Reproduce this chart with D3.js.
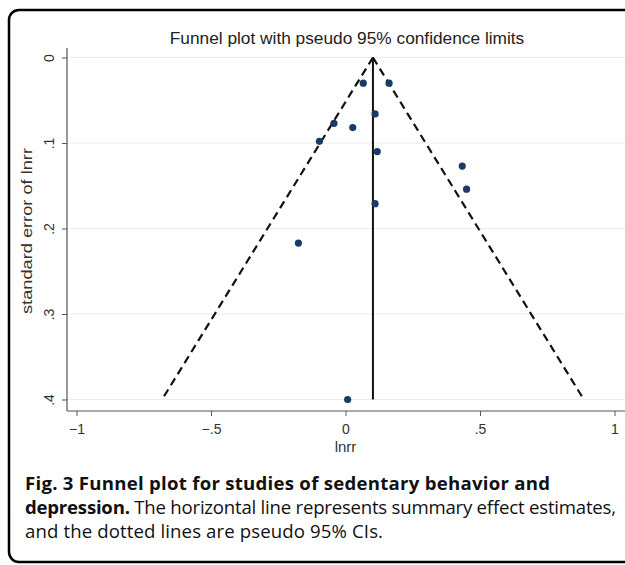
<!DOCTYPE html>
<html lang="en">
<head>
    <meta charset="UTF-8">
    <title>Funnel plot</title>
    <script src="https://d3js.org/d3.v7.min.js"></script>
    <style>
        body { margin: 0; background: #fff; }
        svg { display: block; }
        .axis text { font-family: "Liberation Sans", Arial, sans-serif; font-size: 14px; fill: #333; }
        .caption { font-family: "Open Sans", sans-serif; font-size: 18.6px; fill: #111; }
    </style>
</head>
<body>
    <div id="chart"></div>
    <script>
        // effect size (lnrr) and its standard error for each study
        const lnrr = [0.066, 0.162, 0.110, -0.043, 0.027, -0.097, 0.118, 0.434, 0.450, 0.110, -0.175, 0.008];
        const se   = [0.030, 0.030, 0.066, 0.077, 0.082, 0.098, 0.110, 0.127, 0.154, 0.171, 0.217, 0.400];
        const summary = 0.102;
        const leftLimit  = [[0.102, 0], [-0.682, 0.4]];
        const rightLimit = [[0.102, 0], [0.886, 0.4]];
        const xTicks = [-1, -0.5, 0, 0.5, 1];
        const yTicks = [0, 0.1, 0.2, 0.3, 0.4];

        const W = 625, H = 565;
        const svg = d3.select("#chart").append("svg")
            .attr("width", W).attr("height", H);

        // outer frame
        svg.append("rect")
            .attr("x", 9).attr("y", 10)
            .attr("width", 640).attr("height", 552)
            .attr("rx", 10)
            .attr("fill", "#fff")
            .attr("stroke", "#000")
            .attr("stroke-width", 2.5);

        const x = d3.scaleLinear().domain([-1, 1]).range([76.5, 614.5]);
        const y = d3.scaleLinear().domain([0, 0.4]).range([57.5, 399.5]);
        const axisX = 67, axisY = 411;

        const stata = d => d === 0 ? "0" : d3.format("")(d).replace("0.", ".");

        // gridlines
        svg.append("g").selectAll("line")
            .data(yTicks).enter().append("line")
            .attr("x1", axisX).attr("x2", W)
            .attr("y1", d => y(d)).attr("y2", d => y(d))
            .attr("stroke", "#ececec").attr("stroke-width", 1);

        // y axis
        const gy = svg.append("g")
            .attr("class", "axis")
            .attr("transform", `translate(${axisX},0)`)
            .call(d3.axisLeft(y).tickValues(yTicks).tickSize(5).tickFormat(stata));
        gy.select(".domain").remove();
        gy.selectAll(".tick line").attr("stroke", "#555");
        gy.selectAll(".tick text")
            .attr("transform", "rotate(-90)")
            .attr("x", 0).attr("y", -13).attr("dy", 0)
            .attr("text-anchor", "middle");
        svg.append("line")
            .attr("x1", axisX).attr("x2", axisX)
            .attr("y1", 48).attr("y2", axisY)
            .attr("stroke", "#555").attr("stroke-width", 1.2);

        // x axis
        const gx = svg.append("g")
            .attr("class", "axis")
            .attr("transform", `translate(0,${axisY})`)
            .call(d3.axisBottom(x).tickValues(xTicks).tickSize(5).tickFormat(stata));
        gx.select(".domain").remove();
        gx.selectAll(".tick line").attr("stroke", "#555");
        gx.selectAll(".tick text").attr("y", 13).attr("dy", "0.71em");
        svg.append("line")
            .attr("x1", axisX).attr("x2", W)
            .attr("y1", axisY).attr("y2", axisY)
            .attr("stroke", "#555").attr("stroke-width", 1.2);

        // axis titles
        svg.append("text")
            .attr("transform", `translate(32,231) rotate(-90)`)
            .attr("text-anchor", "middle")
            .attr("textLength", 166)
            .attr("lengthAdjust", "spacingAndGlyphs")
            .style("font-family", "Liberation Sans, Arial, sans-serif")
            .style("font-size", "15px").style("fill", "#333")
            .text("standard error of lnrr");
        svg.append("text")
            .attr("x", x(0)).attr("y", 452)
            .attr("text-anchor", "middle")
            .style("font-family", "Liberation Sans, Arial, sans-serif")
            .style("font-size", "15px").style("fill", "#333")
            .text("lnrr");

        // title
        svg.append("text")
            .attr("x", 347).attr("y", 44)
            .attr("text-anchor", "middle")
            .style("font-family", "Liberation Sans, Arial, sans-serif")
            .style("font-size", "17.3px").style("fill", "#222")
            .text("Funnel plot with pseudo 95% confidence limits");

        // pseudo 95% limits
        const line = d3.line().x(d => x(d[0])).y(d => y(d[1]));
        [leftLimit, rightLimit].forEach(l => {
            svg.append("path")
                .attr("d", line(l))
                .attr("fill", "none")
                .attr("stroke", "#111")
                .attr("stroke-width", 2.2)
                .attr("stroke-dasharray", "8,5");
        });

        // summary effect
        svg.append("line")
            .attr("x1", x(summary)).attr("x2", x(summary))
            .attr("y1", y(0)).attr("y2", y(0.4))
            .attr("stroke", "#111").attr("stroke-width", 2);

        // studies
        svg.append("g").selectAll("circle")
            .data(lnrr).enter().append("circle")
            .attr("cx", d => x(d))
            .attr("cy", (d, i) => y(se[i]))
            .attr("r", 3.6)
            .attr("fill", "#1b3a66");

        // caption
        const cap = svg.append("g").attr("class", "caption");
        cap.append("text").attr("x", 25).attr("y", 490)
            .attr("textLength", 525).attr("lengthAdjust", "spacing")
            .style("font-weight", "bold")
            .text("Fig. 3 Funnel plot for studies of sedentary behavior and");
        const t2 = cap.append("text").attr("x", 25).attr("y", 514)
            .attr("textLength", 591).attr("lengthAdjust", "spacing");
        t2.append("tspan").style("font-weight", "bold").text("depression.");
        t2.append("tspan").text(" The horizontal line represents summary effect estimates,");
        cap.append("text").attr("x", 25).attr("y", 538)
            .attr("textLength", 358).attr("lengthAdjust", "spacing")
            .text("and the dotted lines are pseudo 95% CIs.");
    </script>
</body>
</html>
